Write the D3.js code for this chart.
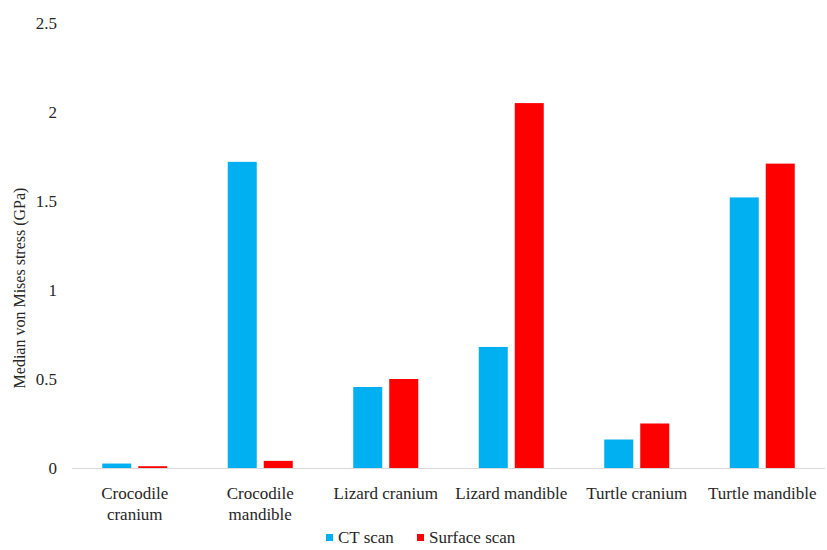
<!DOCTYPE html>
<html>
<head>
<meta charset="utf-8">
<script src="https://cdn.jsdelivr.net/npm/d3@7/dist/d3.min.js"></script>
<style>
  html, body { margin: 0; padding: 0; background: #fff; }
</style>
</head>
<body>
<svg id="chart" width="827" height="550" font-family="Liberation Serif"></svg>
<script>
// Median von Mises stress per specimen, by scan method
const categories = [
  ["Crocodile", "cranium"],
  ["Crocodile", "mandible"],
  ["Lizard cranium"],
  ["Lizard mandible"],
  ["Turtle cranium"],
  ["Turtle mandible"]
];
const seriesNames = ["CT scan", "Surface scan"];
const ctScan      = [0.025, 1.72, 0.455, 0.68, 0.16, 1.52];
const surfaceScan = [0.01, 0.04, 0.50, 2.05, 0.25, 1.71];
const yTicks = [0, 0.5, 1, 1.5, 2, 2.5];
const yTickLabels = ["0", "0.5", "1", "1.5", "2", "2.5"];
const colors = ["#00b0f0", "#ff0000"];

const TEXT_COLOR = "#262626";
const svg = d3.select("#chart");
const margin = { left: 72, right: 2, top: 23, bottom: 82 };
const W = 827, H = 550;

const x0 = d3.scaleBand()
  .domain(d3.range(categories.length))
  .range([margin.left, W - margin.right])
  .paddingInner(0).paddingOuter(0);

const x1 = d3.scaleBand()
  .domain(seriesNames)
  .range([0, x0.bandwidth()])
  .paddingInner(0.194)
  .paddingOuter(0.84);

const y = d3.scaleLinear().domain([0, 2.5]).range([H - margin.bottom, margin.top]);

function label(sel) {
  return sel.style("font-family", "Liberation Serif").style("font-size", "17px").attr("fill", TEXT_COLOR);
}

// y tick labels
yTicks.forEach((v, i) => {
  label(svg.append("text"))
    .attr("x", 57).attr("y", y(v) + 6)
    .attr("text-anchor", "end")
    .text(yTickLabels[i]);
});

// category labels
categories.forEach((lines, i) => {
  const cx = x0(i) + x0.bandwidth() / 2;
  lines.forEach((ln, j) => {
    label(svg.append("text"))
      .attr("x", cx).attr("y", 499 + j * 21)
      .attr("text-anchor", "middle")
      .text(ln);
  });
});

// legend
const legendItems = [
  { name: seriesNames[0], x: 326, color: colors[0] },
  { name: seriesNames[1], x: 417, color: colors[1] }
];
legendItems.forEach(it => {
  svg.append("rect").attr("x", it.x).attr("y", 534).attr("width", 7).attr("height", 7).attr("fill", it.color);
  label(svg.append("text")).attr("x", it.x + 12).attr("y", 543).text(it.name);
});

// y axis title
svg.append("text")
  .attr("transform", "translate(25,288) rotate(-90)")
  .attr("text-anchor", "middle")
  .style("font-family", "Liberation Serif").style("font-size", "16px").attr("fill", TEXT_COLOR)
  .text("Median von Mises stress (GPa)");

// bars
const values = [ctScan, surfaceScan];
seriesNames.forEach((s, si) => {
  svg.append("g")
    .selectAll("rect")
    .data(values[si])
    .join("rect")
    .attr("x", (d, i) => x0(i) + x1(s))
    .attr("y", d => y(d))
    .attr("width", x1.bandwidth())
    .attr("height", d => y(0) - y(d))
    .attr("fill", colors[si]);
});

// baseline
svg.append("line")
  .attr("x1", margin.left).attr("x2", W - margin.right)
  .attr("y1", y(0) + 0.5).attr("y2", y(0) + 0.5)
  .attr("stroke", "#d9d9d9").attr("stroke-width", 1);
</script>
</body>
</html>
